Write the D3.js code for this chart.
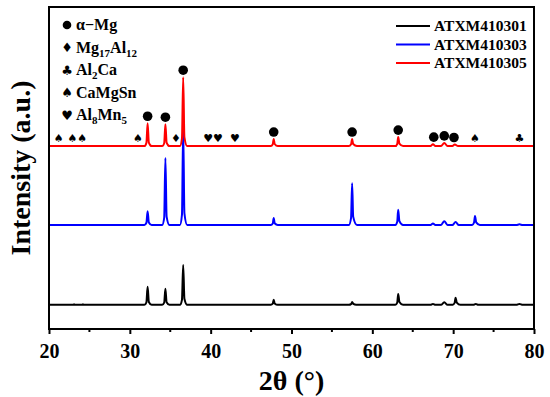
<!DOCTYPE html>
<html>
<head>
<meta charset="utf-8">
<script src="https://cdn.jsdelivr.net/npm/d3@7"></script>
<style>
  body { margin: 0; background: #fff; }
  text { font-family: "Liberation Serif", "Times New Roman", serif; font-weight: bold; }
</style>
</head>
<body>
<div id="chart"></div>
<script>
// sample names and colours
const sampleNames = ["ATXM410301", "ATXM410303", "ATXM410305"];
const sampleColors = ["#000000", "#0000ff", "#ff0000"];
// vertical stacking offset of each pattern (a.u.)
const sampleOffsets = [7.5, 32.3, 56.8];

// XRD patterns: [2theta, intensity above its own baseline]
const black = [
  [20,0],[23.0,0],[23.1,0.2],[23.2,0],[24.1,0],[24.2,0.2],[24.3,0],
  [31.8,0],[32.05,0.8],[32.2,5.6],[32.35,0.9],[32.7,0],
  [34.0,0],[34.25,0.7],[34.4,5.0],[34.55,0.8],[34.9,0],
  [36.2,0],[36.45,1.6],[36.6,12.4],[36.75,1.9],[37.1,0],
  [47.45,0],[47.68,0.35],[47.8,1.6],[47.92,0.45],[48.3,0],
  [57.1,0],[57.4,0.3],[57.5,0.9],[57.65,0.3],[58.0,0],
  [62.85,0],[63.08,0.7],[63.2,3.4],[63.35,0.9],[63.8,0],
  [67.2,0],[67.5,0.3],[67.8,0],
  [68.5,0],[68.9,0.8],[69.3,0],
  [69.95,0],[70.18,0.6],[70.3,2.2],[70.45,0.7],[70.9,0],
  [72.5,0],[72.8,0.3],[73.1,0],
  [77.8,0],[78.2,0.3],[78.6,0],[80,0]
];
const blue = [
  [20,0],[31.8,0],[32.05,0.7],[32.2,4.3],[32.35,0.8],[32.7,0],
  [34.0,0],[34.25,2.2],[34.4,20.8],[34.55,2.6],[34.9,0],
  [36.2,0],[36.45,3.2],[36.6,30],[36.75,3.7],[37.1,0],
  [47.45,0],[47.68,0.45],[47.8,2.2],[47.92,0.55],[48.3,0],
  [57.1,0],[57.37,2.2],[57.5,13],[57.63,2.6],[58.1,0],
  [62.85,0],[63.08,1.0],[63.2,4.7],[63.35,1.2],[63.8,0],
  [67.2,0],[67.5,0.5],[67.8,0],
  [68.5,0],[68.9,1.2],[69.3,0],
  [69.9,0],[70.3,0.9],[70.7,0],
  [72.35,0],[72.58,0.7],[72.7,2.8],[72.85,0.8],[73.3,0],
  [77.8,0],[78.2,0.2],[78.6,0],[80,0]
];
const red = [
  [20,0],[31.8,0],[32.05,1.0],[32.2,7.1],[32.35,1.1],[32.7,0],
  [34.0,0],[34.25,0.9],[34.4,6.8],[34.55,1.1],[34.9,0],
  [36.2,0],[36.45,2.4],[36.6,21.4],[36.75,2.8],[37.1,0],
  [47.45,0],[47.68,0.55],[47.8,2.2],[47.92,0.65],[48.3,0],
  [57.1,0],[57.37,0.55],[57.5,2.2],[57.63,0.65],[58.1,0],
  [62.85,0],[63.08,0.65],[63.2,2.8],[63.35,0.75],[63.8,0],
  [67.2,0],[67.5,0.6],[67.8,0],
  [68.5,0],[68.9,1.0],[69.3,0],
  [69.9,0],[70.2,0.5],[70.6,0],[80,0]
];
const patterns = [black, blue, red];

// phase identification marks over the top pattern
const markPhase = ["spade","spade","spade","spade","circle","circle","diamond","circle",
  "heart","heart","heart","circle","circle","circle","circle","circle","circle","spade","club"];
const markTheta = [21.2, 22.9, 24.1, 31.0, 32.2, 34.4, 35.7, 36.6,
  39.7, 40.9, 43.0, 47.8, 57.5, 63.2, 67.6, 68.9, 70.1, 72.7, 78.2];

// phase legend
const phaseKeys = ["circle", "diamond", "club", "spade", "heart"];
const phaseLabels = [
  [["α−Mg", false]],
  [["Mg", false], ["17", true], ["Al", false], ["12", true]],
  [["Al", false], ["2", true], ["Ca", false]],
  [["CaMgSn", false]],
  [["Al", false], ["8", true], ["Mn", false], ["5", true]]
];
const glyphs = { diamond: "♦", club: "♣", spade: "♠", heart: "♥" };

const xTicks = [20, 30, 40, 50, 60, 70, 80];
const xMinorTicks = [25, 35, 45, 55, 65, 75];

const width = 550, height = 397;
const margin = { left: 49, right: 16, top: 7, bottom: 68 };
const innerW = width - margin.left - margin.right;
const innerH = height - margin.top - margin.bottom;

const svg = d3.select("#chart").append("svg")
  .attr("width", width).attr("height", height);

const g = svg.append("g").attr("transform", `translate(${margin.left},${margin.top})`);

const x = d3.scaleLinear().domain([20, 80]).range([0, innerW]);
const y = d3.scaleLinear().domain([0, 100]).range([innerH, 0]);

// axes
const xAxis = g.append("g").attr("transform", `translate(0,${innerH})`)
  .call(d3.axisBottom(x).tickValues(xTicks).tickSize(5).tickPadding(10).tickSizeOuter(0))
  .call(a => a.select(".domain").remove());
xAxis.selectAll("line").attr("stroke-width", 2);
xAxis.selectAll("text").attr("font-size", 20)
  .attr("font-family", "'Liberation Serif', 'Times New Roman', serif").attr("font-weight", "bold");

g.append("g").attr("transform", `translate(0,${innerH})`)
  .selectAll("line").data(xMinorTicks).join("line")
  .attr("x1", d => x(d)).attr("x2", d => x(d))
  .attr("y1", 0).attr("y2", 3)
  .attr("stroke", "#000").attr("stroke-width", 2);

// patterns
const line = d3.line()
  .x(d => x(d[0]))
  .curve(d3.curveMonotoneX);

patterns.forEach((p, i) => {
  g.append("path")
    .datum(p)
    .attr("fill", "none")
    .attr("stroke", sampleColors[i])
    .attr("stroke-width", 2)
    .attr("stroke-linejoin", "round")
    .attr("d", line.y(d => y(d[1] + sampleOffsets[i])));
});

// frame
g.append("rect")
  .attr("width", innerW).attr("height", innerH)
  .attr("fill", "none").attr("stroke", "#000").attr("stroke-width", 2);

// phase marks
function drawMark(sel, kind, cx, cy, r, fs) {
  if (kind === "circle") {
    sel.append("circle").attr("cx", cx).attr("cy", cy).attr("r", r).attr("fill", "#000");
  } else {
    sel.append("text").attr("x", cx).attr("y", cy).attr("dy", "0.36em")
      .attr("text-anchor", "middle")
      .style("font-family", "'DejaVu Sans', sans-serif").style("font-weight", "normal")
      .attr("font-size", fs).text(glyphs[kind]);
  }
}

const marks = g.append("g");
markTheta.forEach((t, i) => {
  const near = red.filter(d => Math.abs(d[0] - t) <= 0.3);
  const top = near.length ? d3.max(near, d => d[1]) : 0;
  const cy = y(top + sampleOffsets[2]) - (markPhase[i] === "circle" ? 7 : 8);
  drawMark(marks, markPhase[i], x(t), cy, 4.8, 11);
});

// phase legend
const pl = svg.append("g");
phaseKeys.forEach((k, i) => {
  const cy = 25 + i * 22.5;
  drawMark(pl, k, 67, cy, 4.3, 13);
  const t = pl.append("text").attr("x", 76).attr("y", cy + 5).attr("font-size", 16);
  let shifted = false;
  phaseLabels[i].forEach(([s, sub]) => {
    const ts = t.append("tspan").text(s);
    if (sub && !shifted) { ts.attr("dy", 4).attr("font-size", 11); shifted = true; }
    else if (sub) { ts.attr("font-size", 11); }
    else if (shifted) { ts.attr("dy", -4); shifted = false; }
  });
});

// sample legend
const sl = svg.append("g");
sampleNames.forEach((n, i) => {
  const cy = 26 + i * 18.5;
  sl.append("line").attr("x1", 396).attr("x2", 430).attr("y1", cy).attr("y2", cy)
    .attr("stroke", sampleColors[i]).attr("stroke-width", 2);
  sl.append("text").attr("x", 434).attr("y", cy + 5).attr("font-size", 15.5).text(n);
});

// axis titles
svg.append("text")
  .attr("x", margin.left + innerW / 2).attr("y", 390)
  .attr("text-anchor", "middle").attr("font-size", 28)
  .text("2θ (°)");

svg.append("text")
  .attr("transform", `translate(30,${margin.top + innerH / 2}) rotate(-90)`)
  .attr("text-anchor", "middle").attr("font-size", 28)
  .text("Intensity (a.u.)");
</script>
</body>
</html>
